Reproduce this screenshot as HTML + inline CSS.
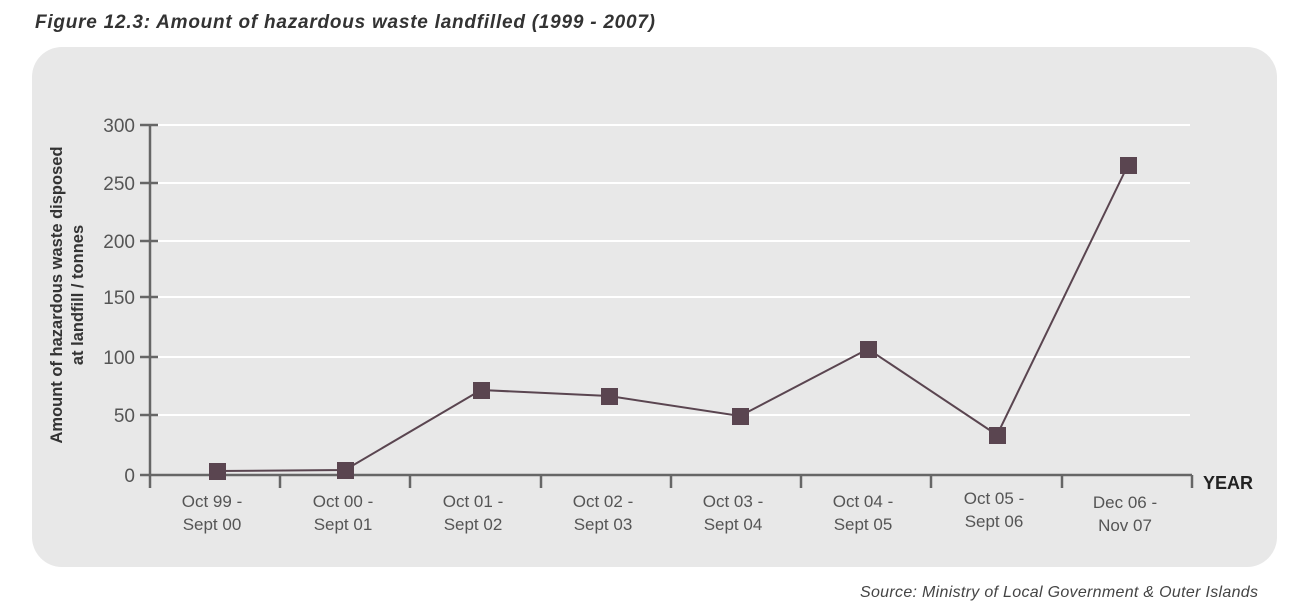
<!DOCTYPE html>
<html><head><meta charset="utf-8"><style>
body{margin:0;background:#fff;width:1293px;height:607px;overflow:hidden;font-family:"Liberation Sans",sans-serif}
</style></head><body>
<svg width="1293" height="607" xmlns="http://www.w3.org/2000/svg" font-family="Liberation Sans, sans-serif">
<text x="35" y="28" font-size="19" font-style="italic" font-weight="bold" fill="#333" textLength="620" lengthAdjust="spacing">Figure 12.3: Amount of hazardous waste landfilled (1999 - 2007)</text>
<rect x="32" y="47" width="1245" height="520" rx="30" fill="#e8e8e8"/>
<g stroke="#fff" stroke-width="2">
<line x1="150" y1="125" x2="1190" y2="125"/>
<line x1="150" y1="183" x2="1190" y2="183"/>
<line x1="150" y1="241" x2="1190" y2="241"/>
<line x1="150" y1="297" x2="1190" y2="297"/>
<line x1="150" y1="357" x2="1190" y2="357"/>
<line x1="150" y1="415" x2="1190" y2="415"/>
</g>
<g stroke="#666" stroke-width="2.5">
<line x1="150" y1="125" x2="150" y2="488"/>
<line x1="150" y1="475" x2="1192" y2="475"/>
<line x1="140" y1="125" x2="158" y2="125"/>
<line x1="140" y1="183" x2="158" y2="183"/>
<line x1="140" y1="241" x2="158" y2="241"/>
<line x1="140" y1="297" x2="158" y2="297"/>
<line x1="140" y1="357" x2="158" y2="357"/>
<line x1="140" y1="415" x2="158" y2="415"/>
<line x1="140" y1="475" x2="150" y2="475"/>
<line x1="280" y1="475" x2="280" y2="488"/>
<line x1="410" y1="475" x2="410" y2="488"/>
<line x1="541" y1="475" x2="541" y2="488"/>
<line x1="671" y1="475" x2="671" y2="488"/>
<line x1="801" y1="475" x2="801" y2="488"/>
<line x1="931" y1="475" x2="931" y2="488"/>
<line x1="1062" y1="475" x2="1062" y2="488"/>
<line x1="1192" y1="475" x2="1192" y2="488"/>
</g>
<g font-size="19" fill="#555" text-anchor="end">
<text x="135" y="132">300</text><text x="135" y="190">250</text><text x="135" y="248">200</text>
<text x="135" y="304">150</text><text x="135" y="364">100</text><text x="135" y="422">50</text><text x="135" y="482">0</text>
</g>
<g font-size="17" fill="#555" text-anchor="middle">
<text x="212" y="507">Oct 99 -</text><text x="212" y="530">Sept 00</text>
<text x="343" y="507">Oct 00 -</text><text x="343" y="530">Sept 01</text>
<text x="473" y="507">Oct 01 -</text><text x="473" y="530">Sept 02</text>
<text x="603" y="507">Oct 02 -</text><text x="603" y="530">Sept 03</text>
<text x="733" y="507">Oct 03 -</text><text x="733" y="530">Sept 04</text>
<text x="863" y="507">Oct 04 -</text><text x="863" y="530">Sept 05</text>
<text x="994" y="504">Oct 05 -</text><text x="994" y="527">Sept 06</text>
<text x="1125" y="508">Dec 06 -</text><text x="1125" y="531">Nov 07</text>
</g>
<text x="1203" y="489" font-size="18" font-weight="bold" fill="#222">YEAR</text>
<g transform="translate(62,295) rotate(-90)" font-size="16.5" font-weight="bold" fill="#333" text-anchor="middle">
<text x="0" y="0">Amount of hazardous waste disposed</text>
<text x="0" y="21">at landfill / tonnes</text>
</g>
<polyline fill="none" stroke="#5a4550" stroke-width="2" points="217,471 345,470 481,390 609,396 740,416 868,349 997,435 1128,165"/>
<g fill="#5a4550">
<rect x="209" y="463" width="17" height="17"/>
<rect x="337" y="462" width="17" height="17"/>
<rect x="473" y="382" width="17" height="17"/>
<rect x="601" y="388" width="17" height="17"/>
<rect x="732" y="408" width="17" height="17"/>
<rect x="860" y="341" width="17" height="17"/>
<rect x="989" y="427" width="17" height="17"/>
<rect x="1120" y="157" width="17" height="17"/>
</g>
<text x="1258" y="597" font-size="16" font-style="italic" fill="#444" text-anchor="end" textLength="398" lengthAdjust="spacing">Source: Ministry of Local Government &amp; Outer Islands</text>
</svg>
</body></html>
